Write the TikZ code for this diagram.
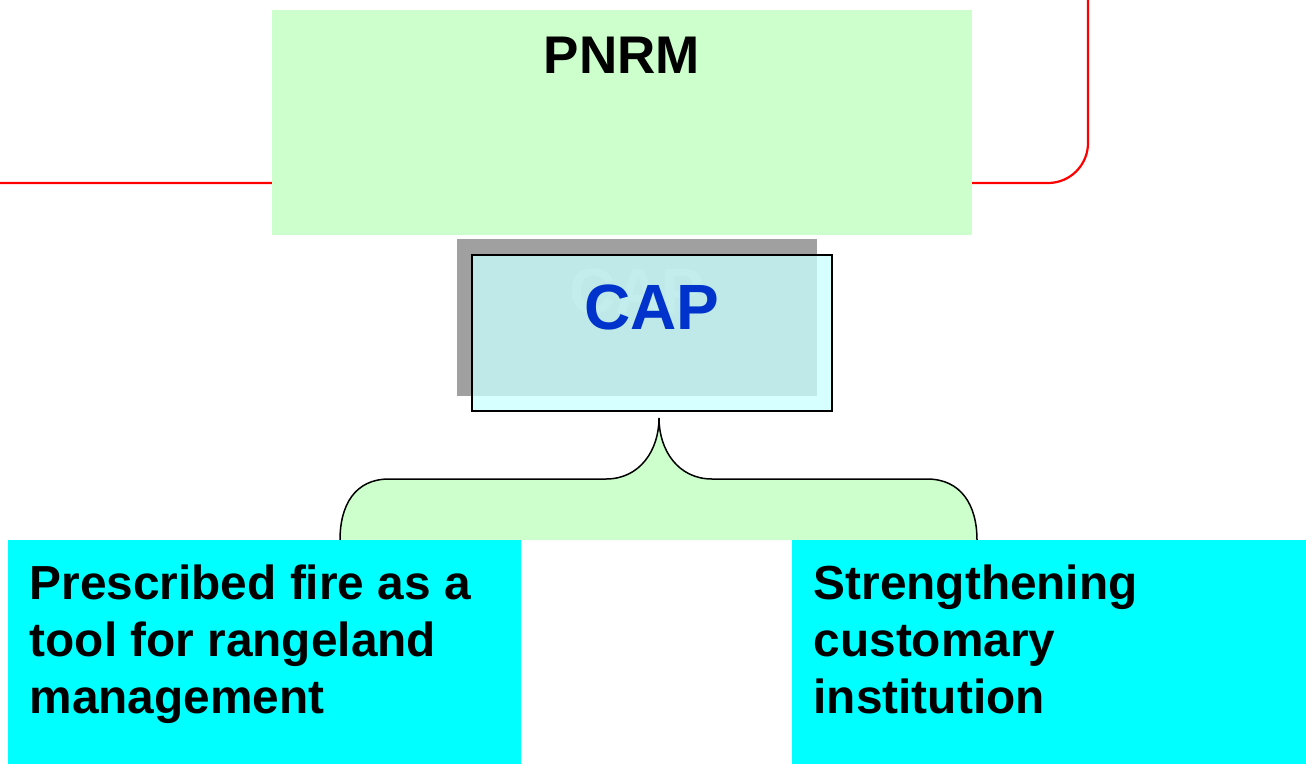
\documentclass[tikz,border=0pt]{standalone}
\usepackage{fontspec}
\setmainfont{Liberation Sans}
\definecolor{palegreen}{RGB}{204,255,204}
\definecolor{paleaqua}{RGB}{201,255,255}
\definecolor{shadowgray}{RGB}{160,160,160}
\definecolor{ghostgray}{RGB}{178,178,178}
\definecolor{capblue}{RGB}{0,51,204}
\definecolor{aqua}{RGB}{0,255,255}
\tikzset{
  flatbox/.style={inner sep=0pt, outer sep=0pt, anchor=north west},
  bigtext/.style={font=\bfseries\fontsize{47.8}{57}\selectfont, align=left, inner sep=0pt, anchor=north west},
}
\begin{document}
\begin{tikzpicture}[x=1pt,y=-1pt]
    \useasboundingbox (0,0) rectangle (1306,764);

    % Red line behind the PNRM box
    \coordinate (redin) at (0,183);
    \coordinate (redout) at (1088,0);
    \draw[red, line width=2.2pt, rounded corners=40pt] (redin) -- (redin -| redout) -- (redout);

    % PNRM
    \node[flatbox, fill=palegreen, minimum width=700pt, minimum height=225pt] (pnrm) at (272,10) {};
    \node[font=\bfseries\fontsize{53}{60}\selectfont, anchor=base, inner sep=0pt] (pnrmtext) at (622,73) {PNRM};

    % CAP with its shadow
    \node[flatbox, fill=shadowgray, minimum width=360pt, minimum height=157pt] (capshadow) at (457,239) {};
    \node[font=\bfseries\fontsize{64}{70}\selectfont, text=ghostgray, anchor=base, inner sep=0pt] (capghost) at (637,313) {CAP};
    \node[flatbox, fill=paleaqua, fill opacity=0.76, draw=black, line width=1.5pt, minimum width=360pt, minimum height=156pt] (cap) at (472,255) {};
    \node[font=\bfseries\fontsize{64}{70}\selectfont, text=capblue, anchor=base, inner sep=0pt] (captext) at (652,329) {CAP};

    % Brace
    \coordinate (bracetip) at (659,418);
    \filldraw[fill=palegreen, draw=black, line width=1.5pt]
        (340,540) .. controls (340,505) and (355,479) .. (389,479) -- (606,479)
        .. controls (640,479) and (659,450) .. (bracetip)
        .. controls (659,450) and (678,479) .. (712,479) -- (927,479)
        .. controls (961,479) and (977,505) .. (977,540);

    % Two activities
    \node[flatbox, fill=aqua, minimum width=513pt, minimum height=224pt] (fire) at (8,540) {};
    \node[flatbox, fill=aqua, minimum width=514pt, minimum height=224pt] (custom) at (792,540) {};
    \node[bigtext] (firetext) at (29.5,564.5) {Prescribed fire as a\\tool for rangeland\\management};
    \node[bigtext] (customtext) at (813.5,564.5) {Strengthening\\customary\\institution};
\end{tikzpicture}
\end{document}
